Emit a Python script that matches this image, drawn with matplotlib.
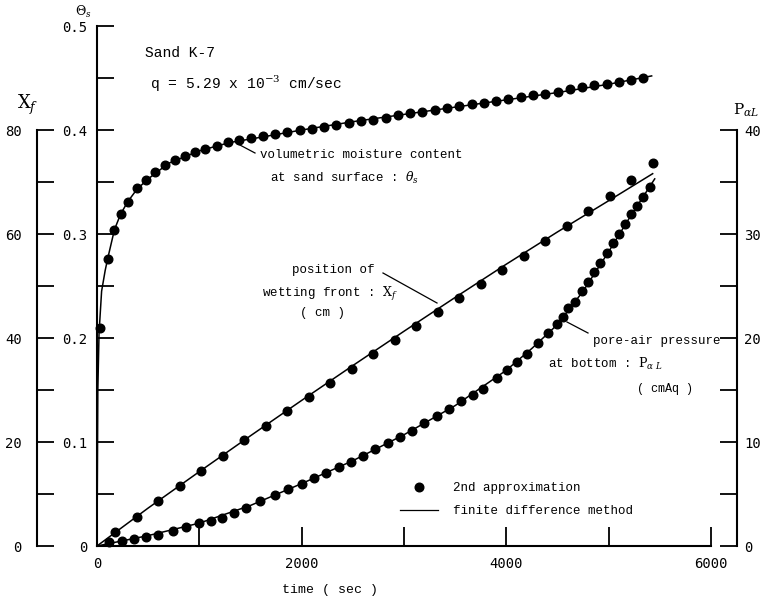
import matplotlib
matplotlib.use("Agg")
import matplotlib.pyplot as plt
from matplotlib.lines import Line2D

plt.rcParams['font.family'] = ['Liberation Mono', 'DejaVu Sans']
plt.rcParams['mathtext.fontset'] = 'dejavuserif'

# ---------------- data ----------------
# volumetric moisture content at sand surface (theta_s)
theta_pt_time = [25, 106, 170, 230, 300, 390, 480, 570, 660, 760, 860, 960, 1060, 1170, 1280,
                 1390, 1500, 1620, 1740, 1860, 1980, 2100, 2220, 2340, 2460, 2580, 2700, 2820,
                 2940, 3060, 3180, 3300, 3420, 3540, 3660, 3780, 3900, 4020, 4140, 4260, 4380,
                 4500, 4620, 4740, 4860, 4980, 5100, 5220, 5340]
theta_pt = [0.21, 0.276, 0.304, 0.319, 0.331, 0.344, 0.352, 0.360, 0.366, 0.371, 0.375, 0.379,
            0.382, 0.385, 0.388, 0.390, 0.392, 0.394, 0.396, 0.398, 0.400, 0.401, 0.403, 0.405,
            0.407, 0.409, 0.410, 0.412, 0.414, 0.416, 0.417, 0.419, 0.421, 0.423, 0.425, 0.426,
            0.428, 0.430, 0.432, 0.434, 0.435, 0.437, 0.439, 0.441, 0.443, 0.444, 0.446, 0.448,
            0.450]
theta_ln_time = [0, 8, 20, 45, 80, 106, 170, 230, 300, 390, 500, 700, 1000, 1300, 1600, 2000,
                 2500, 3000, 3500, 4000, 4500, 5000, 5420]
theta_ln = [0, 0.15, 0.205, 0.245, 0.265, 0.277, 0.304, 0.319, 0.331, 0.343, 0.353, 0.368,
            0.380, 0.388, 0.393, 0.400, 0.408, 0.415, 0.422, 0.429, 0.436, 0.444, 0.452]

# position of wetting front X_f (cm)
xf_pt_time = [180, 390, 600, 810, 1020, 1230, 1440, 1650, 1860, 2070, 2280, 2490, 2700, 2910,
              3120, 3330, 3540, 3750, 3960, 4170, 4380, 4590, 4800, 5010, 5220, 5430]
xf_pt = [2.6, 5.6, 8.6, 11.6, 14.5, 17.4, 20.3, 23.1, 25.9, 28.7, 31.4, 34.1, 36.9, 39.6,
         42.3, 45.0, 47.7, 50.4, 53.1, 55.8, 58.6, 61.5, 64.4, 67.3, 70.3, 73.7]
xf_ln_time = [0, 500, 1000, 1500, 2000, 2500, 3000, 3500, 4000, 4500, 5000, 5430]
xf_ln = [0, 7.3, 14.3, 21.2, 28.0, 34.7, 41.3, 47.8, 54.2, 60.4, 66.4, 71.6]

# pore-air pressure at bottom P_aL (cmAq)
p_pt_time = [120, 240, 360, 480, 600, 740, 870, 1000, 1110, 1220, 1340, 1460, 1590, 1740, 1870,
             2000, 2120, 2240, 2360, 2480, 2600, 2720, 2840, 2960, 3080, 3200, 3320, 3440, 3560,
             3670, 3772, 3909, 4007, 4104, 4202, 4309, 4407, 4495, 4554, 4603, 4671, 4740, 4800,
             4860, 4920, 4980, 5040, 5100, 5160, 5220, 5280, 5340, 5400]
p_pt = [0.4, 0.5, 0.7, 0.9, 1.1, 1.4, 1.8, 2.2, 2.4, 2.7, 3.2, 3.7, 4.3, 4.9, 5.5,
        6.0, 6.5, 7.0, 7.6, 8.1, 8.7, 9.3, 9.9, 10.5, 11.1, 11.8, 12.5, 13.2, 13.9,
        14.5, 15.1, 16.2, 16.9, 17.7, 18.5, 19.5, 20.5, 21.3, 22.0, 22.9, 23.5, 24.5, 25.4,
        26.3, 27.2, 28.2, 29.1, 30.0, 31.0, 31.9, 32.7, 33.6, 34.5]
p_ln_time = [0, 500, 1000, 1500, 2000, 2500, 3000, 3500, 4000, 4250, 4500, 4750, 5000, 5200, 5450]
p_ln = [0, 1.0, 2.2, 3.9, 6.0, 8.2, 10.7, 13.5, 16.9, 19.0, 21.3, 24.5, 28.3, 31.5, 35.3]

x_ticks_major = [0, 2000, 4000, 6000]
x_ticks_minor = [1000, 3000, 5000]
theta_ticks = [0, 0.1, 0.2, 0.3, 0.4, 0.5]
xf_ticks = [0, 20, 40, 60, 80]
p_ticks = [0, 10, 20, 30, 40]

# ---------------- figure ----------------
W, H = 763, 600
fig = plt.figure(figsize=(W / 100, H / 100), dpi=100)
TICKFONT = 'DejaVu Sans Mono'

def fx(x):
    return x / W

def fy(y):
    return 1 - y / H

x0, x1, yb, yt = 97, 711, 546, 26
ax = fig.add_axes([fx(x0), fy(yb), fx(x1) - fx(x0), fy(yt) - fy(yb)])
ax.patch.set_alpha(0)
ax.set_xlim(0, 6000)
ax.set_ylim(0, 0.5)
for s in ['top', 'right']:
    ax.spines[s].set_visible(False)
for s in ['left', 'bottom']:
    ax.spines[s].set_linewidth(1.5)
ax.set_xticks(x_ticks_major)
ax.set_xticklabels([str(v) for v in x_ticks_major], family=TICKFONT)
ax.set_xticks(x_ticks_minor, minor=True)
ax.set_yticks(theta_ticks)
ax.set_yticklabels(['0'] + ['%.1f' % v for v in theta_ticks[1:]], family=TICKFONT)
ax.set_yticks([0.05, 0.15, 0.25, 0.35, 0.45], minor=True)
ax.tick_params(axis='x', which='both', direction='in', length=14, width=1.3, pad=8, labelsize=10)
ax.tick_params(axis='y', which='both', direction='in', length=12, width=1.3, pad=7, labelsize=10)

# X_f axis (left, outer)
ax2 = ax.twinx()
ax2.set_ylim(0, 100)
for s in ['top', 'right', 'bottom']:
    ax2.spines[s].set_visible(False)
ax2.spines['left'].set_visible(True)
ax2.spines['left'].set_position(('axes', (37 - x0) / (x1 - x0)))
ax2.spines['left'].set_bounds(0, 80)
ax2.spines['left'].set_linewidth(1.5)
ax2.yaxis.set_ticks_position('left')
ax2.yaxis.set_label_position('left')
ax2.set_yticks(xf_ticks)
ax2.set_yticklabels([str(v) for v in xf_ticks], family=TICKFONT)
ax2.set_yticks([10, 30, 50, 70], minor=True)
ax2.tick_params(axis='y', which='both', direction='in', length=12, width=1.3, pad=11, labelsize=10)

# P_aL axis (right)
ax3 = ax.twinx()
ax3.set_ylim(0, 50)
for s in ['top', 'left', 'bottom']:
    ax3.spines[s].set_visible(False)
ax3.spines['right'].set_position(('axes', (737 - x0) / (x1 - x0)))
ax3.spines['right'].set_bounds(0, 40)
ax3.spines['right'].set_linewidth(1.5)
ax3.set_yticks(p_ticks)
ax3.set_yticklabels([str(v) for v in p_ticks], family=TICKFONT)
ax3.set_yticks([5, 15, 25, 35], minor=True)
ax3.tick_params(axis='y', which='both', direction='in', length=12, width=1.3, pad=5, labelsize=10)

ms = 6.2
lw = 1.1
ax.plot(theta_ln_time, theta_ln, color='black', lw=lw, clip_on=False)
ax.plot(theta_pt_time, theta_pt, 'o', color='black', ms=ms, clip_on=False)
ax2.plot(xf_ln_time, xf_ln, color='black', lw=lw, clip_on=False)
ax2.plot(xf_pt_time, xf_pt, 'o', color='black', ms=ms, clip_on=False)
ax3.plot(p_ln_time, p_ln, color='black', lw=lw, clip_on=False)
ax3.plot(p_pt_time, p_pt, 'o', color='black', ms=ms, clip_on=False)

# axis names
fig.text(fx(330), fy(590), 'time ( sec )', ha='center', va='center', fontsize=9.5)
fig.text(fx(83), fy(12), r'$\Theta_{s}$', ha='center', va='center', fontsize=9)
fig.text(fx(28), fy(105), r'$\mathrm{X}_{f}$', ha='center', va='center', fontsize=13)
fig.text(fx(759), fy(110), r'$\mathrm{P}_{\alpha L}$', ha='right', va='center', fontsize=11)

# annotations
fig.text(fx(145), fy(53), 'Sand K-7', ha='left', va='center', fontsize=10.5)
fig.text(fx(150), fy(84), r'q = 5.29 x 10$^{-3}$ cm/sec', ha='left', va='center', fontsize=10.5)

fig.text(fx(260), fy(155), 'volumetric moisture content', ha='left', va='center', fontsize=9)
fig.text(fx(270), fy(178), r'at sand surface : $\theta_s$', ha='left', va='center', fontsize=9)
fig.add_artist(Line2D([fx(238), fx(255)], [fy(144), fy(153)], color='black', lw=0.9))

fig.text(fx(292), fy(270), 'position of', ha='left', va='center', fontsize=9)
fig.text(fx(262), fy(294), r'wetting front : $\mathrm{X}_f$', ha='left', va='center', fontsize=9)
fig.text(fx(300), fy(313), '( cm )', ha='left', va='center', fontsize=9)
fig.add_artist(Line2D([fx(383), fx(437)], [fy(273), fy(303)], color='black', lw=0.9))

fig.text(fx(593), fy(341), 'pore-air pressure', ha='left', va='center', fontsize=9)
fig.text(fx(548), fy(364), r'at bottom : $\mathrm{P}_{\alpha\ L}$', ha='left', va='center', fontsize=9)
fig.text(fx(637), fy(389), '( cmAq )', ha='left', va='center', fontsize=8.5)
fig.add_artist(Line2D([fx(567), fx(588)], [fy(322), fy(333)], color='black', lw=0.9))

# legend
h_dot = Line2D([], [], marker='o', ls='none', color='black', ms=ms)
h_line = Line2D([], [], color='black', lw=0.9)
leg = ax.legend([h_dot, h_line], ['2nd approximation', 'finite difference method'],
                loc='upper left', bbox_to_anchor=(fx(394), fy(476)), bbox_transform=fig.transFigure,
                frameon=False, fontsize=9, handlelength=3.0, handletextpad=1.2,
                labelspacing=0.9, borderpad=0)

fig.savefig('out.png', dpi=100)
